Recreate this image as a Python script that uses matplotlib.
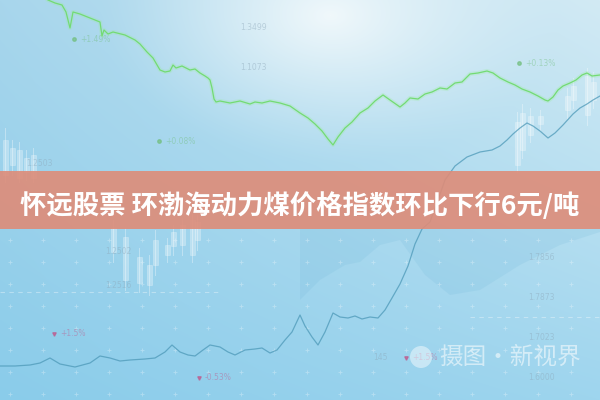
import numpy as np
import matplotlib
matplotlib.use("Agg")
import matplotlib.pyplot as plt
from matplotlib.patches import Rectangle, Circle

plt.rcParams['font.family'] = ['Noto Sans CJK SC', 'DejaVu Sans']

# ---- data (image-space values) ----
title = "怀远股票 环渤海动力煤价格指数环比下行6元/吨"
watermark = "摄图·新视界"

green_x = [48, 55, 62, 66, 70, 73, 80, 90, 100, 102, 104, 108, 113, 117, 125, 135, 140, 147, 153,
           160, 165, 170, 173, 176, 182, 190, 195, 200, 205, 208, 210, 212, 214, 216, 220, 230,
           240, 250, 255, 262, 270, 280, 290, 300, 308, 315, 322, 328, 333, 338, 345, 352, 360,
           368, 375, 383, 390, 400, 405, 410, 418, 425, 432, 440, 447, 455, 462, 470, 478, 487,
           493, 500, 508, 515, 522, 530, 538, 545, 548, 553, 558, 563, 570, 576, 582, 587, 592, 600]
green_y = [0, 3, 5, 12, 28, 12, 14, 18, 22, 36, 30, 34, 32, 33, 35, 40, 44, 52, 58,
           70, 72, 71, 65, 68, 66, 70, 69, 73, 76, 78, 80, 88, 99, 102, 101, 103,
           101, 104, 102, 103, 101, 103, 106, 113, 118, 124, 131, 139, 145, 137, 128, 122, 113,
           108, 101, 95, 100, 107, 103, 98, 99, 94, 92, 88, 89, 83, 82, 74, 73, 71,
           73, 78, 82, 85, 89, 92, 96, 100, 101, 97, 90, 86, 83, 80, 75, 73, 76, 75]

blue_x = [0, 15, 30, 40, 50, 60, 75, 90, 100, 110, 120, 130, 145, 155, 165, 172, 180, 188, 195,
          203, 210, 220, 228, 235, 245, 255, 262, 270, 277, 285, 292, 300, 305, 312, 318, 325,
          333, 340, 348, 355, 362, 370, 378, 385, 392, 400, 408, 415, 422, 430, 438, 445, 455,
          467, 480, 492, 500, 507, 513, 520, 527, 533, 540, 548, 555, 563, 573, 580, 587, 593, 600]
blue_y = [366, 366, 365, 363, 358, 364, 367, 363, 356, 358, 361, 360, 359, 358, 352, 345, 352, 355, 356,
          350, 345, 347, 352, 355, 350, 349, 348, 353, 350, 340, 332, 315, 326, 337, 345, 332,
          313, 317, 318, 316, 319, 317, 318, 310, 298, 284, 266, 244, 229, 222, 200, 180, 166,
          157, 152, 150, 146, 140, 134, 128, 123, 126, 131, 138, 133, 125, 114, 108, 104, 100, 96]

# candlesticks: x, body top, body bottom, wick top, wick bottom
candle_x = [5, 12, 19, 26, 33, 113, 125, 139, 149, 155, 167, 173, 182, 192, 197,
            517, 522, 530, 540, 567, 573, 587, 593]
candle_top = [140, 148, 150, 158, 155, 228, 237, 257, 265, 240, 245, 232, 225, 220, 222,
              122, 113, 116, 116, 96, 86, 76, 82]
candle_bot = [175, 165, 178, 172, 178, 252, 280, 283, 285, 265, 255, 246, 245, 255, 240,
              165, 150, 135, 124, 110, 100, 115, 100]
wick_top = [128, 140, 142, 150, 148, 220, 228, 248, 255, 230, 238, 225, 218, 214, 215,
            112, 104, 108, 110, 88, 78, 68, 72]
wick_bot = [182, 175, 182, 180, 182, 262, 290, 292, 295, 275, 262, 255, 255, 262, 250,
            172, 158, 142, 130, 118, 108, 125, 108]

label_text = ["1.3499", "1.1073", "+1.49%", "+0.08%", "+0.13%", "1.2503", "1.2502", "1.2516",
              "+1.5%", "-0.53%", "1.7856", "1.7873", "1.7023", "1.6000", "145", "+1.5%"]
label_x = [240, 240, 80, 165, 525, 26, 105, 105, 60, 205, 528, 528, 528, 528, 373, 412]
label_y = [28, 68, 39, 141, 63, 163, 252, 285, 334, 378, 258, 298, 338, 378, 358, 358]
label_kind = ["val", "val", "g", "g", "g", "val", "val", "val", "r", "r", "val", "val", "val", "val", "val", "r"]

W, H = 600, 400

fig = plt.figure(figsize=(6, 4), dpi=100)
ax = fig.add_axes([0, 0, 1, 1])
ax.set_xlim(0, W)
ax.set_ylim(H, 0)
ax.axis('off')

# ---- background gradient ----
yy, xx = np.mgrid[0:H, 0:W]
u = xx / (W - 1)
v = yy / (H - 1)
TL = np.array([168, 214, 236]); TR = np.array([210, 234, 244])
BL = np.array([138, 204, 234]); BR = np.array([158, 213, 238])
img = ((1 - u)[..., None] * (1 - v)[..., None] * TL + u[..., None] * (1 - v)[..., None] * TR +
       (1 - u)[..., None] * v[..., None] * BL + u[..., None] * v[..., None] * BR)
d = np.sqrt(((xx - 330) / 230.0) ** 2 + ((yy - 15) / 150.0) ** 2)
glow = np.clip(1 - d, 0, 1) ** 1.3
img = img * (1 - glow[..., None]) + np.array([240, 248, 251]) * glow[..., None]
ax.imshow(img.astype(np.uint8), extent=[0, W, H, 0], zorder=0, aspect='auto')

# darker cloud shape lower right
cx = [300, 320, 345, 360, 380, 400, 425, 450, 480, 520, 560, 600, 600, 300]
cy = [300, 280, 265, 262, 245, 240, 275, 295, 290, 265, 245, 232, 229, 229]
ax.fill(cx, cy, color=(0.45, 0.72, 0.85), alpha=0.18, lw=0, zorder=1)

# faint grid marks
for gx in range(10, W, 33):
    for gy in range(240, H, 22):
        ax.plot(gx, gy, marker='+', ms=3, color='white', alpha=0.3, mew=0.6, zorder=1)
ax.plot([0, 220], [292, 292], ls=(0, (4, 4)), color='white', alpha=0.35, lw=0.8, zorder=1)
ax.plot([470, 600], [317, 317], ls=(0, (4, 4)), color='white', alpha=0.35, lw=0.8, zorder=1)

# candlesticks
for x, t, b, wt, wb in zip(candle_x, candle_top, candle_bot, wick_top, wick_bot):
    ax.plot([x, x], [wt, wb], color='white', alpha=0.35, lw=0.7, zorder=2)
    ax.add_patch(Rectangle((x - 2.5, t), 5, b - t, facecolor='white', edgecolor='white',
                           alpha=0.3, lw=0.5, zorder=2))

# lines
ax.plot(green_x, green_y, color=(0.6, 0.93, 0.6), lw=3.0, alpha=0.25, zorder=3)
ax.plot(green_x, green_y, color=(0.45, 0.86, 0.45), lw=0.9, zorder=3)
ax.plot(blue_x, blue_y, color=(0.3, 0.6, 0.72), lw=0.9, alpha=0.75, zorder=3)

# faint labels
for t, x, y, k in zip(label_text, label_x, label_y, label_kind):
    col = {'val': (0.55, 0.65, 0.72), 'g': (0.45, 0.75, 0.5), 'r': (0.75, 0.35, 0.55)}[k]
    ax.text(x, y, t, fontsize=5.5, color=col, alpha=0.45, ha='left', va='center',
            family='DejaVu Sans', zorder=2)
    if k != 'val':
        ax.plot(x - 6, y, marker='o' if k == 'g' else 'v', ms=2.5, color=col, alpha=0.7, zorder=2)

# banner
ax.add_patch(Rectangle((0, 171), W, 58, facecolor=(0.87, 0.55, 0.47), alpha=0.9, lw=0, zorder=4))
ax.text(300, 206, title, fontsize=19, fontweight='bold', color='white', ha='center', va='center',
        zorder=5)

# watermark
ax.add_patch(Circle((421, 357), 11, facecolor='white', alpha=0.45, lw=0, zorder=5))
ax.text(510, 357, watermark, fontsize=17, color='white', alpha=0.55, ha='center', va='center',
        zorder=5)

fig.savefig("out.png", dpi=100)
